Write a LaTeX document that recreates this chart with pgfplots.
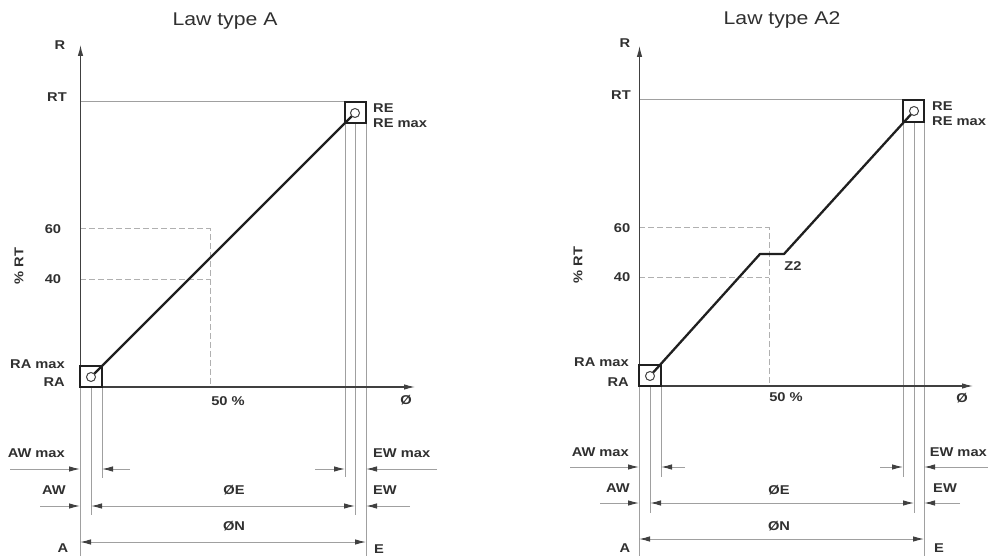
\documentclass[border=0pt]{standalone}
\usepackage{fontspec}
\setmainfont{Liberation Sans}[FakeStretch=1.15]
\usepackage{pgfplots}
\pgfplotsset{compat=1.18}
\usetikzlibrary{arrows.meta}
\definecolor{txtc}{HTML}{303030}
\definecolor{gthin}{HTML}{A0A0A0}
\definecolor{gdash}{HTML}{B0B0B0}
\definecolor{axc}{HTML}{404040}
\definecolor{mainc}{HTML}{202020}
\tikzset{
  lbl/.style={font=\fontsize{12.8}{14}\selectfont\bfseries, text=txtc, inner sep=0pt},
  ttl/.style={font=\fontsize{18.5}{20}\selectfont, text=txtc, inner sep=0pt},
}
\begin{document}
\begin{tikzpicture}[x=1bp,y=1bp]
\useasboundingbox (0,0) rectangle (988,556);
\begin{axis}[at={(0,0)}, anchor=south west, scale only axis,
  width=988bp, height=556bp, xmin=0, xmax=988, ymin=0, ymax=556,
  y dir=reverse, hide axis, clip=false, no markers,
  gl/.style={gthin, line width=1bp},
  dl/.style={gdash, line width=1bp, dash pattern=on 6bp off 3bp},
  ar/.style={gthin, line width=1bp, -{Latex[length=11bp,width=5.5bp,color=axc]}},
  dar/.style={gthin, line width=1bp, {Latex[length=11bp,width=5.5bp,color=axc]}-{Latex[length=11bp,width=5.5bp,color=axc]}},
  axl/.style={axc, line width=1.1bp, -{Latex[length=11bp,width=5.5bp,color=axc]}},
  ml/.style={mainc, line width=2.3bp, line join=round},
  sq/.style={mainc, line width=2.3bp, line join=miter},
  ci/.style={only marks, mark=*, mark size=4.5bp, mark options={fill=white, draw=axc, line width=1bp}},
]
% ===================== LEFT PANEL: Law type A =====================
\addplot[gl] coordinates {(80,102) (345,102)};
\addplot[gl] coordinates {(80,387) (80,556)};
\addplot[gl] coordinates {(91,387) (91,515)};
\addplot[gl] coordinates {(102,387) (102,478)};
\addplot[gl] coordinates {(345,123) (345,477)};
\addplot[gl] coordinates {(355,123) (355,515)};
\addplot[gl] coordinates {(366,123) (366,556)};
\addplot[dl] coordinates {(80,229) (210,229) (210,387)};
\addplot[dl] coordinates {(80,280) (210,280)};
\addplot[axl] coordinates {(80.5,387) (80.5,45)};
\addplot[axl] coordinates {(80,387) (415,387)};
\addplot[ar] coordinates {(10,469) (80,469)};
\addplot[ar] coordinates {(130,469) (102,469)};
\addplot[ar] coordinates {(315,469) (345,469)};
\addplot[ar] coordinates {(437,469) (366,469)};
\addplot[ar] coordinates {(40,506) (80,506)};
\addplot[dar] coordinates {(91,506) (355,506)};
\addplot[ar] coordinates {(410,506) (366,506)};
\addplot[dar] coordinates {(80,542) (366,542)};
\addplot[ml] coordinates {(91,377) (355,113)};
\addplot[sq] coordinates {(80,366) (102,366) (102,387) (80,387) (80,366) (102,366)};
\addplot[sq] coordinates {(345,102) (366,102) (366,123) (345,123) (345,102) (366,102)};
\addplot[ci] coordinates {(91,377) (355,113)};
\node[ttl] at (axis cs:225,21) {Law type A};
\node[lbl] at (axis cs:60,45) {R};
\node[lbl] at (axis cs:57,97) {RT};
\node[lbl, anchor=west] at (axis cs:373,108) {RE};
\node[lbl, anchor=west] at (axis cs:373,123) {RE max};
\node[lbl] at (axis cs:53,229) {60};
\node[lbl] at (axis cs:53,279) {40};
\node[lbl, rotate=90] at (axis cs:19,266) {\% RT};
\node[lbl, anchor=east] at (axis cs:65,364) {RA max};
\node[lbl, anchor=east] at (axis cs:65,382) {RA};
\node[lbl] at (axis cs:228,401) {50 \%};
\node[lbl] at (axis cs:406,400) {Ø};
\node[lbl, anchor=east] at (axis cs:65,453) {AW max};
\node[lbl, anchor=east] at (axis cs:66,490) {AW};
\node[lbl] at (axis cs:63,548) {A};
\node[lbl] at (axis cs:234,490) {ØE};
\node[lbl] at (axis cs:234,526) {ØN};
\node[lbl, anchor=west] at (axis cs:373,453) {EW max};
\node[lbl, anchor=west] at (axis cs:373,490) {EW};
\node[lbl, anchor=west] at (axis cs:374,549) {E};
% ===================== RIGHT PANEL: Law type A2 =====================
\addplot[gl] coordinates {(639,100) (903,100)};
\addplot[gl] coordinates {(639,386) (639,556)};
\addplot[gl] coordinates {(650,386) (650,513)};
\addplot[gl] coordinates {(661,386) (661,477)};
\addplot[gl] coordinates {(903,122) (903,477)};
\addplot[gl] coordinates {(914,122) (914,513)};
\addplot[gl] coordinates {(924,122) (924,556)};
\addplot[dl] coordinates {(639,228) (769,228) (769,386)};
\addplot[dl] coordinates {(639,278) (769,278)};
\addplot[axl] coordinates {(639.5,386) (639.5,46)};
\addplot[axl] coordinates {(639,386) (973,386)};
\addplot[ar] coordinates {(570,467) (639,467)};
\addplot[ar] coordinates {(685,467) (661,467)};
\addplot[ar] coordinates {(880,467) (903,467)};
\addplot[ar] coordinates {(988,467) (924,467)};
\addplot[ar] coordinates {(600,503) (639,503)};
\addplot[dar] coordinates {(650,503) (914,503)};
\addplot[ar] coordinates {(960,503) (924,503)};
\addplot[dar] coordinates {(639,539) (924,539)};
\addplot[ml] coordinates {(650,376) (760,254) (784,254) (914,111)};
\addplot[sq] coordinates {(639,365) (661,365) (661,386) (639,386) (639,365) (661,365)};
\addplot[sq] coordinates {(903,100) (924,100) (924,122) (903,122) (903,100) (924,100)};
\addplot[ci] coordinates {(650,376) (914,111)};
\node[ttl] at (axis cs:782,20) {Law type A2};
\node[lbl] at (axis cs:625,43) {R};
\node[lbl] at (axis cs:621,95) {RT};
\node[lbl, anchor=west] at (axis cs:932,106) {RE};
\node[lbl, anchor=west] at (axis cs:932,121) {RE max};
\node[lbl] at (axis cs:622,228) {60};
\node[lbl] at (axis cs:622,277) {40};
\node[lbl, rotate=90] at (axis cs:578,265) {\% RT};
\node[lbl] at (axis cs:793,266) {Z2};
\node[lbl, anchor=east] at (axis cs:629,362) {RA max};
\node[lbl, anchor=east] at (axis cs:629,382) {RA};
\node[lbl] at (axis cs:786,397) {50 \%};
\node[lbl] at (axis cs:962,398) {Ø};
\node[lbl, anchor=east] at (axis cs:629,452) {AW max};
\node[lbl, anchor=east] at (axis cs:630,488) {AW};
\node[lbl] at (axis cs:625,548) {A};
\node[lbl] at (axis cs:779,490) {ØE};
\node[lbl] at (axis cs:779,526) {ØN};
\node[lbl, anchor=east] at (axis cs:987,452) {EW max};
\node[lbl, anchor=west] at (axis cs:933,488) {EW};
\node[lbl, anchor=west] at (axis cs:934,548) {E};
\end{axis}
\end{tikzpicture}
\end{document}
